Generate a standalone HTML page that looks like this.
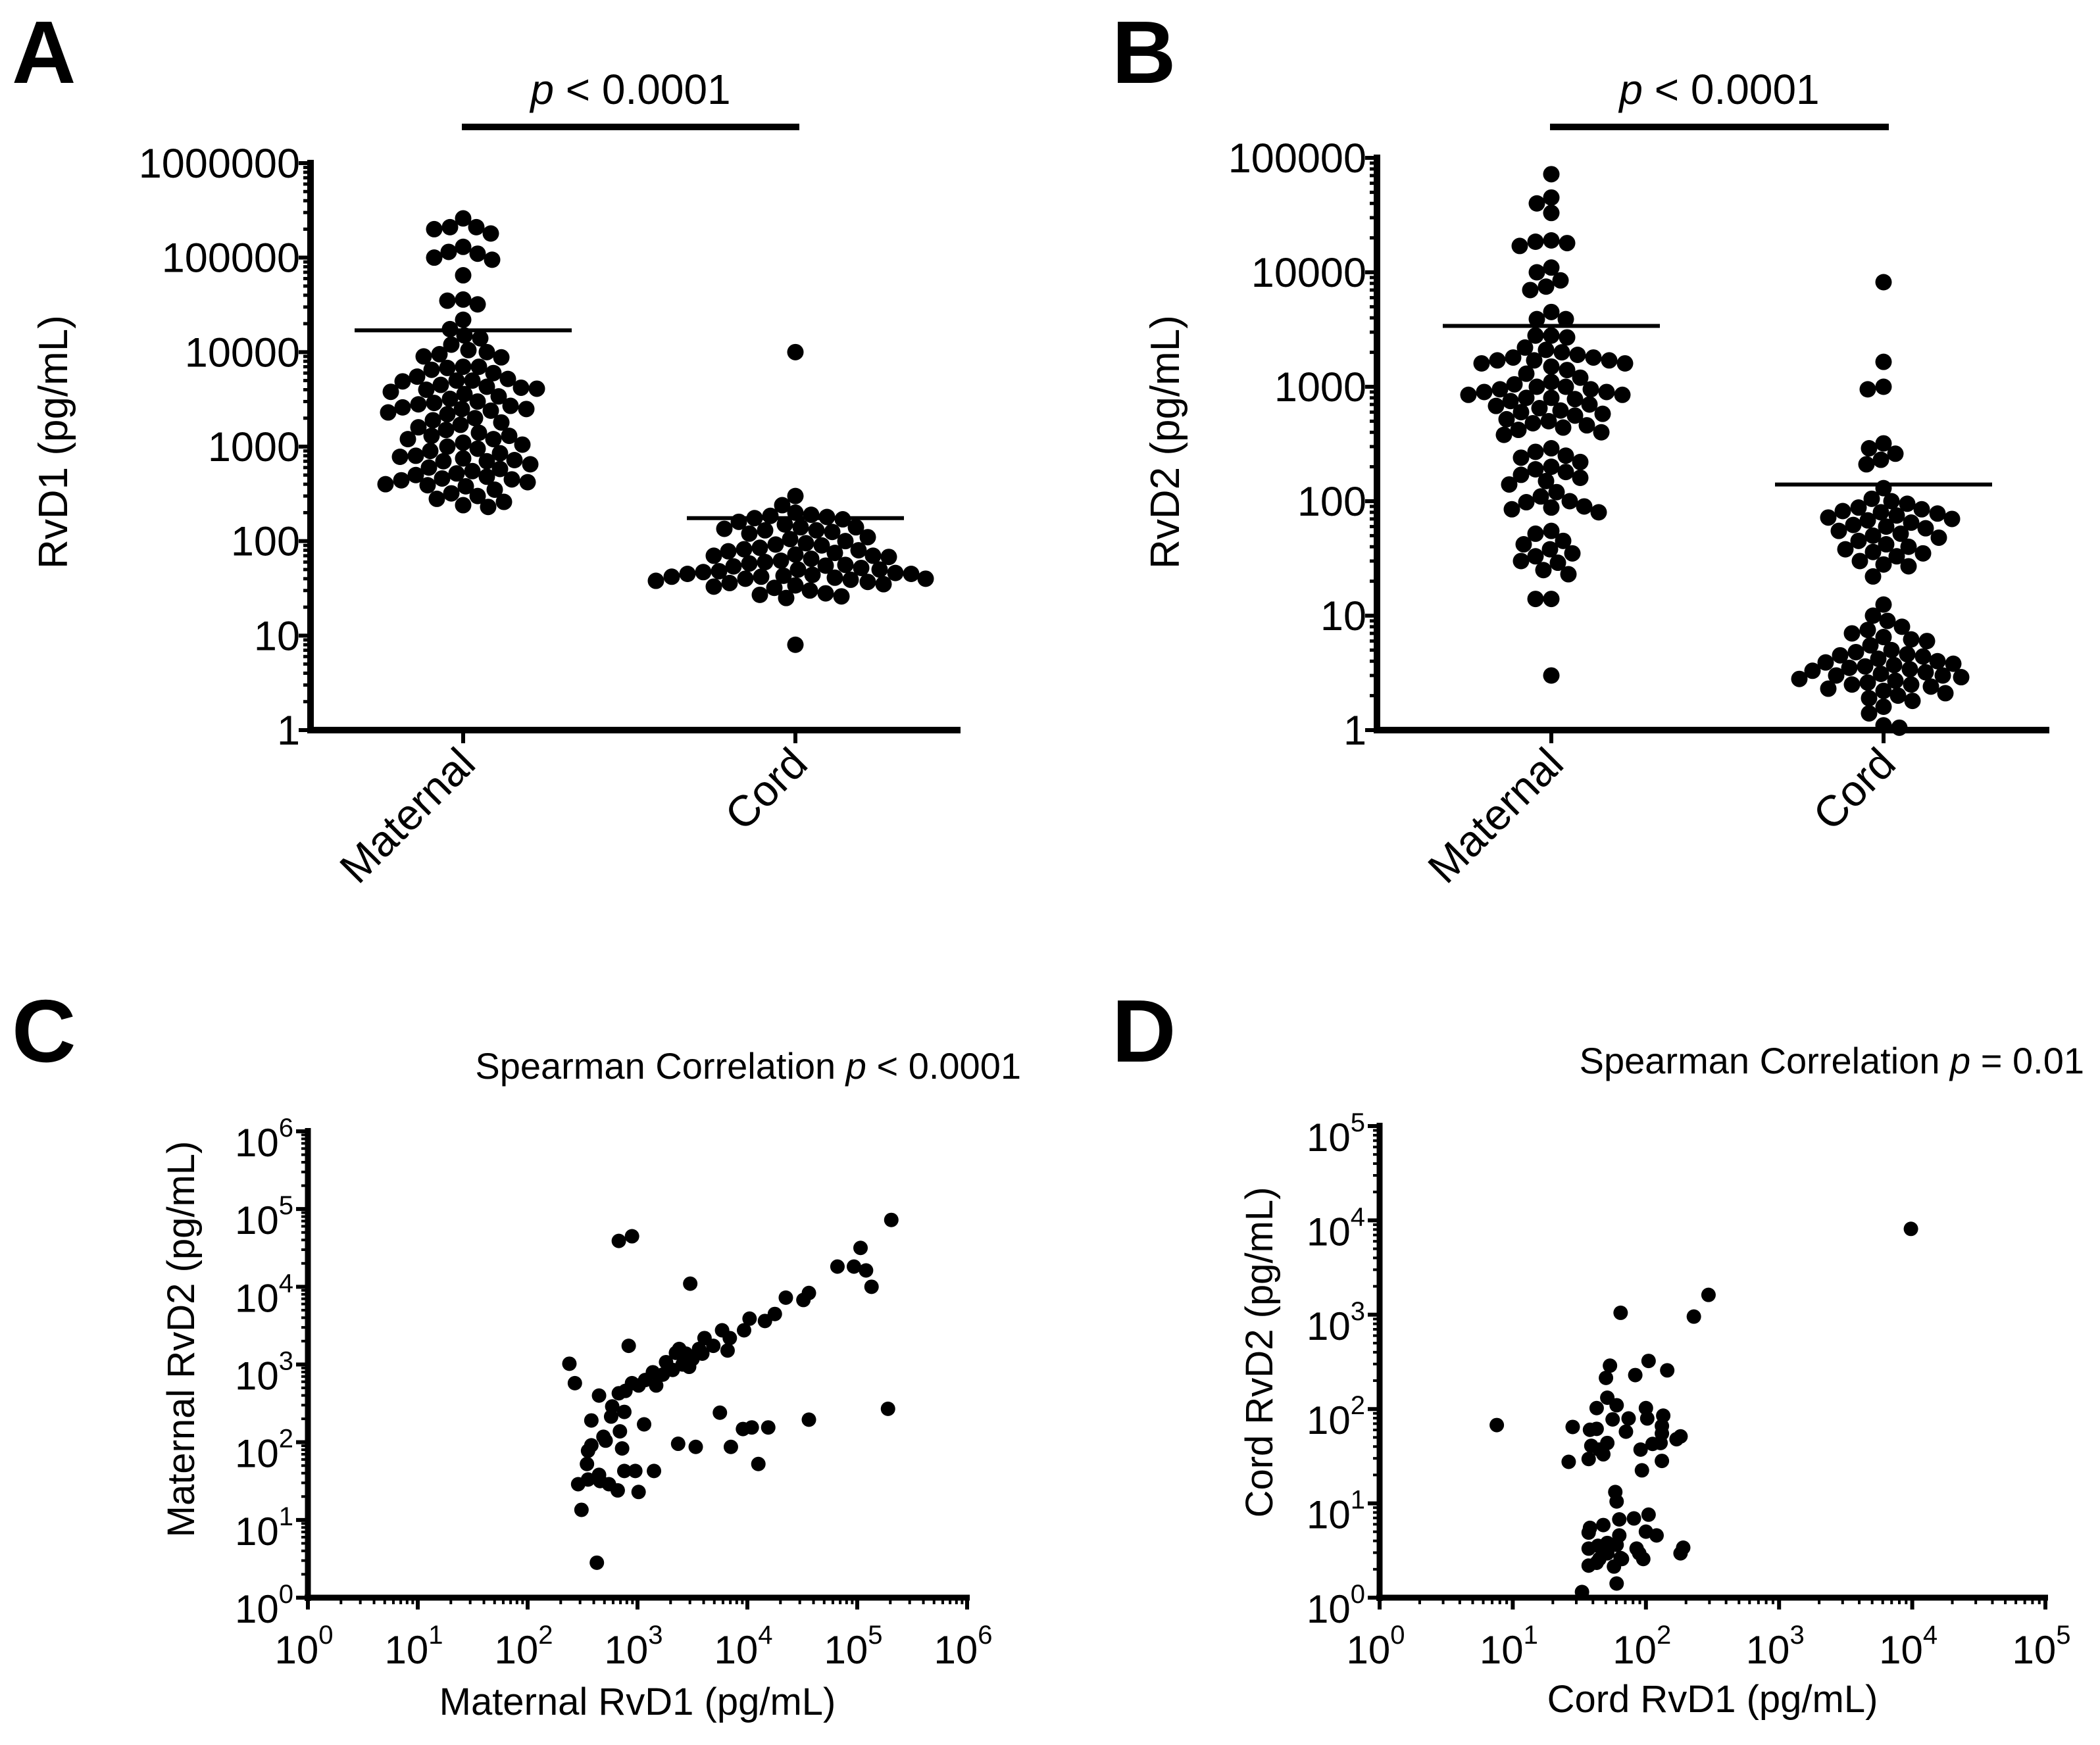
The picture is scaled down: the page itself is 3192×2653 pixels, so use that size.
<!DOCTYPE html>
<html><head><meta charset="utf-8"><style>
html,body{margin:0;padding:0;background:#fff}
svg{display:block;font-family:"Liberation Sans",Arial,sans-serif}
</style></head><body>
<svg id="fig" width="3192" height="2653" viewBox="0 0 3192 2653" xmlns="http://www.w3.org/2000/svg">
<rect width="3192" height="2653" fill="#fff"/>
<g id="root"></g>
</svg>
<script>
// ---- Panel A data (pg/mL) ----
const categoriesAB = ["Maternal", "Cord"];
const aMaternal = [260000,210000,210000,200000,180000,130000,115000,110000,100000,95000,65000,36000,35000,32000,22000,17500,15000,14000,12000,10500,10000,9500,9000,8800,7000,7000,6800,6500,6000,5500,5200,5000,5000,4900,4500,4300,4200,4100,4000,3800,3600,3400,3200,3000,2900,2800,2700,2600,2500,2500,2400,2300,2200,2000,1900,1800,1700,1600,1500,1400,1300,1300,1200,1200,1100,1050,1000,950,900,850,800,780,750,720,700,700,650,600,580,550,520,500,480,460,450,440,420,400,390,380,350,320,300,280,260,240,230];
const aCord = [10000,300,240,200,190,185,180,175,170,160,150,140,140,135,130,130,125,120,110,105,100,95,92,90,85,82,80,78,75,72,70,70,68,65,62,60,58,56,55,54,52,50,50,48,47,46,45,45,44,43,42,42,41,40,40,39,38,37,36,35,34,33,32,30,28,27,26,25,8];
const aMeans = [17000, 175];
const aTicks = [1,10,100,1000,10000,100000,1000000];
// ---- Panel B data ----
const bMaternal = [72000,45000,40000,33000,19000,18000,17000,18500,11000,10000,8500,7500,7000,4500,3900,3900,2800,2800,2700,2200,2100,2000,1900,1800,1800,1700,1700,1700,1600,1600,1500,1400,1300,1200,1100,1050,1000,1000,950,950,900,900,850,850,800,800,780,750,700,680,650,620,600,580,560,520,500,480,460,440,420,400,380,290,270,250,240,220,200,190,180,170,160,150,140,120,110,100,98,90,88,85,80,55,52,45,42,38,35,33,30,29,25,23,14,14,3];
const bCord = [8200,1650,1000,950,320,290,260,230,210,130,105,100,95,88,85,82,80,78,75,72,70,68,65,62,60,58,55,52,50,48,45,42,40,38,36,35,33,30,28,27,22,12.5,10,9,8,7.5,7,6.5,6.2,6,5.5,5,4.8,4.6,4.5,4.4,4.2,4,3.9,3.8,3.7,3.6,3.5,3.4,3.3,3.2,3.1,3,3,2.9,2.8,2.7,2.6,2.5,2.5,2.4,2.3,2.2,2.1,2,1.9,1.8,1.6,1.4,1.1,1.05];
const bMeans = [3400, 140];
const bTicks = [1,10,100,1000,10000,100000];
// ---- Panel C data (log10 values) ----
const cRvD1Log = [5.31,2.83,2.95,5.03,4.82,4.97,5.08,5.13,3.48,4.35,4.51,4.56,4.25,4.16,4.02,3.97,3.77,3.84,3.61,2.92,3.82,3.69,3.56,3.44,3.35,3.26,3.50,3.41,3.32,3.23,3.14,3.07,3.17,3.01,2.89,2.83,2.95,3.59,3.38,3.47,2.38,2.43,2.65,2.77,2.88,2.76,2.58,3.06,2.84,2.69,2.58,2.71,2.86,2.55,2.54,2.88,2.98,2.65,2.46,2.55,2.66,2.74,2.82,3.01,2.49,2.63,3.75,4.56,5.28,4.19,3.96,4.04,3.37,3.53,3.85,4.10,3.15];
const cRvD2Log = [4.86,4.59,4.65,4.50,4.26,4.26,4.21,4.00,4.04,3.86,3.83,3.92,3.65,3.56,3.59,3.44,3.44,3.34,3.34,3.24,3.18,3.24,3.20,3.14,3.15,3.03,3.07,3.00,2.93,2.87,2.90,2.80,2.73,2.73,2.66,2.63,2.76,3.14,3.20,2.97,3.01,2.76,2.60,2.46,2.39,2.33,2.28,2.23,2.14,2.07,1.96,2.02,1.92,1.89,1.72,1.63,1.63,1.58,1.46,1.52,1.50,1.46,1.38,1.36,1.13,0.45,2.38,2.29,2.43,2.19,2.17,2.19,1.98,1.94,1.94,1.72,1.63];
const cTicks = [0,1,2,3,4,5,6];
// ---- Panel D data (log10 values) ----
const dRvD1Log = [3.99,2.47,2.36,1.81,0.88,1.73,2.02,2.16,1.70,1.92,1.71,1.63,1.78,2.00,1.45,1.58,1.63,1.75,1.87,2.01,2.13,1.85,2.12,2.12,2.26,2.23,1.59,1.71,1.65,1.57,1.68,1.96,2.05,2.11,1.42,2.12,1.97,1.77,1.78,1.80,1.91,2.02,1.57,1.58,1.68,1.80,2.00,2.08,1.57,1.64,1.71,1.78,1.93,1.71,1.65,1.81,1.95,1.98,2.26,2.28,1.57,1.63,1.76,1.82,1.78,1.52];
const dRvD2Log = [3.91,3.21,2.98,3.02,1.83,2.46,2.51,2.41,2.33,2.36,2.12,2.01,2.04,2.01,1.81,1.78,1.79,1.89,1.90,1.90,1.93,1.76,1.82,1.74,1.71,1.68,1.61,1.64,1.57,1.47,1.52,1.57,1.63,1.64,1.44,1.45,1.35,1.12,1.02,0.83,0.84,0.88,0.69,0.74,0.77,0.66,0.70,0.66,0.52,0.55,0.58,0.56,0.52,0.47,0.41,0.42,0.47,0.41,0.47,0.53,0.34,0.37,0.33,0.41,0.15,0.06];
const dTicks = [0,1,2,3,4,5];

const NS = "http://www.w3.org/2000/svg";
const root = document.getElementById('root');
function el(tag, attrs, parent, text){
  const e = document.createElementNS(NS, tag);
  for (const k in attrs) e.setAttribute(k, attrs[k]);
  if (text !== undefined) e.textContent = text;
  (parent || root).appendChild(e);
  return e;
}
function grp(name){
  const g = el('g', {});
  
  
  return g;
}
function logScale(lo, hi, p0, p1){ return v => p0 + (Math.log10(v) - lo) / (hi - lo) * (p1 - p0); }
function linScale(lo, hi, p0, p1){ return v => p0 + (v - lo) / (hi - lo) * (p1 - p0); }

function swarm(values, cx, ys, r){
  const placed = [];
  const order = values.map((v,i)=>i).sort((a,b)=>values[b]-values[a]);
  const xs = new Array(values.length);
  const d2 = (2*r-2)*(2*r-2);
  for (const i of order){
    const y = ys(values[i]);
    let best = cx;
    for (let k = 0; k < 600; k++){
      const off = (k % 2 === 0 ? 1 : -1) * Math.ceil(k/2) * 2;
      const x = cx + off;
      let ok = true;
      for (const p of placed){ const dx=p[0]-x, dy=p[1]-y; if (dx*dx+dy*dy < d2){ ok=false; break; } }
      if (ok){ best = x; break; }
    }
    xs[i] = best; placed.push([best, y]);
  }
  return xs;
}

function panelLabel(txt, x, y, name){
  const t = el('text', {x:x, y:y, 'font-size':135, 'font-weight':'bold'}, root, txt);
  
  
}

function dotPanel(cfg){
  const g = grp(cfg.name);
  const ys = logScale(0, Math.log10(cfg.ticks[cfg.ticks.length-1]), cfg.y0, cfg.y1);
  const ya = el('line', {x1:cfg.ax, y1:cfg.y1-5, x2:cfg.ax, y2:cfg.y0+5, stroke:'#000','stroke-width':10}, g);
   
  const xa = el('line', {x1:cfg.ax-5, y1:cfg.y0, x2:cfg.xEnd, y2:cfg.y0, stroke:'#000','stroke-width':10}, g);
   
  const maxDec = Math.log10(cfg.ticks[cfg.ticks.length-1]);
  for (const t of cfg.ticks){
    const y = ys(t);
    el('line',{x1:cfg.ax-18,y1:y,x2:cfg.ax,y2:y,stroke:'#000','stroke-width':6},g);
    const lab = el('text',{x:cfg.ax-16,y:y+22,'font-size':63,'text-anchor':'end'},g,String(t));
     
    if (Math.log10(t) < maxDec){
      for (let m=2;m<=9;m++){ const yy=ys(t*m); el('line',{x1:cfg.ax-11,y1:yy,x2:cfg.ax,y2:yy,stroke:'#000','stroke-width':5},g); }
    }
  }
  const yt = el('text',{transform:`translate(${cfg.titleX},${cfg.titleY}) rotate(-90)`,'font-size':62,'text-anchor':'middle'},g,cfg.yTitle);
   
  const groups = [cfg.maternal, cfg.cord];
  categoriesAB.forEach((c,i)=>{
    const cx = cfg.cx[i];
    el('line',{x1:cx,y1:cfg.y0,x2:cx,y2:cfg.y0+20,stroke:'#000','stroke-width':6},g);
    const cl = el('text',{transform:`translate(${cx+22},${cfg.y0+55}) rotate(-45)`,'font-size':66,'text-anchor':'end'},g,c);
     
    const xs = swarm(groups[i], cx, ys, 12.5);
    groups[i].forEach((v,j)=>{
      const d = el('circle',{cx:xs[j],cy:ys(v),r:12.5,fill:'#000'},g);
      
      
    });
    const mw = 165;
    const ml = el('line',{x1:cx-mw,y1:ys(cfg.means[i]),x2:cx+mw,y2:ys(cfg.means[i]),stroke:'#000','stroke-width':6},g);
     
  });
  const bar = el('line',{x1:cfg.barX[0],y1:193,x2:cfg.barX[1],y2:193,stroke:'#000','stroke-width':10},g);
   
  const pt = el('text',{x:(cfg.barX[0]+cfg.barX[1])/2,y:158,'font-size':64,'text-anchor':'middle'},g);
   
  el('tspan',{'font-style':'italic'},pt,'p');
  el('tspan',{},pt,' < 0.0001');
}

dotPanel({name:'panel-a', ax:472, xEnd:1460, y0:1110, y1:248, cx:[704,1209], ticks:aTicks,
  maternal:aMaternal, cord:aCord, means:aMeans, yTitle:'RvD1 (pg/mL)', titleX:102, titleY:672, barX:[702,1215]});
dotPanel({name:'panel-b', ax:2093, xEnd:3115, y0:1110, y1:240, cx:[2358,2863], ticks:bTicks,
  maternal:bMaternal, cord:bCord, means:bMeans, yTitle:'RvD2 (pg/mL)', titleX:1792, titleY:672, barX:[2356,2871]});

function scatterPanel(cfg){
  const g = grp(cfg.name);
  const nDec = cfg.ticks.length-1;
  const xs = linScale(0,nDec,cfg.ax,cfg.xEnd);
  const ys = linScale(0,nDec,cfg.y0,cfg.yTop);
  const ya = el('line',{x1:cfg.ax,y1:cfg.yTop-5,x2:cfg.ax,y2:cfg.y0+5,stroke:'#000','stroke-width':9},g);
   
  const xa = el('line',{x1:cfg.ax-5,y1:cfg.y0,x2:cfg.xEnd+4,y2:cfg.y0,stroke:'#000','stroke-width':9},g);
   
  cfg.ticks.forEach(t=>{
    const x = xs(t), y = ys(t);
    el('line',{x1:x,y1:cfg.y0,x2:x,y2:cfg.y0+18,stroke:'#000','stroke-width':6},g);
    el('line',{x1:cfg.ax-18,y1:y,x2:cfg.ax,y2:y,stroke:'#000','stroke-width':6},g);
    const xl = el('text',{x:x-6,y:cfg.y0+100,'font-size':60,'text-anchor':'middle'},g);
     
    el('tspan',{},xl,'10'); el('tspan',{dy:-30,'font-size':40},xl,String(t));
    const yl = el('text',{x:cfg.ax-22,y:y+38,'font-size':60,'text-anchor':'end'},g);
     
    el('tspan',{},yl,'10'); el('tspan',{dy:-30,'font-size':40},yl,String(t));
    if (t < nDec){
      for (let m=2;m<=9;m++){
        const f = Math.log10(m);
        const mx = xs(t+f), my = ys(t+f);
        el('line',{x1:mx,y1:cfg.y0,x2:mx,y2:cfg.y0+10,stroke:'#000','stroke-width':4},g);
        el('line',{x1:cfg.ax-10,y1:my,x2:cfg.ax,y2:my,stroke:'#000','stroke-width':4},g);
      }
    }
  });
  cfg.xv.forEach((v,i)=>{
    const d = el('circle',{cx:xs(v),cy:ys(cfg.yv[i]),r:11,fill:'#000'},g);
     
  });
  const yt = el('text',{transform:`translate(${cfg.yTitleX},${cfg.yTitleY}) rotate(-90)`,'font-size':58,'text-anchor':'middle'},g,cfg.yTitle);
   
  const xt = el('text',{x:(cfg.ax+cfg.xEnd)/2,y:cfg.xTitleY,'font-size':58,'text-anchor':'middle'},g,cfg.xTitle);
   
  const st = el('text',{x:cfg.stX,y:cfg.stY,'font-size':56,'text-anchor':'end'},g);
   
  el('tspan',{},st,'Spearman Correlation ');
  el('tspan',{'font-style':'italic'},st,'p');
  el('tspan',{},st,cfg.pText);
}
scatterPanel({name:'panel-c', ax:468, xEnd:1470, y0:2429, yTop:1720, ticks:cTicks, xv:cRvD1Log, yv:cRvD2Log,
  yTitle:'Maternal RvD2 (pg/mL)', xTitle:'Maternal RvD1 (pg/mL)', yTitleX:295, yTitleY:2036, xTitleY:2607, stX:1552, stY:1640, pText:' < 0.0001'});
scatterPanel({name:'panel-d', ax:2097, xEnd:3109, y0:2429, yTop:1712, ticks:dTicks, xv:dRvD1Log, yv:dRvD2Log,
  yTitle:'Cord RvD2 (pg/mL)', xTitle:'Cord RvD1 (pg/mL)', yTitleX:1934, yTitleY:2056, xTitleY:2603, stX:3168, stY:1632, pText:' = 0.01'});

panelLabel('A', 18, 126, 'panel-label-a');
panelLabel('B', 1690, 126, 'panel-label-b');
panelLabel('C', 18, 1614, 'panel-label-c');
panelLabel('D', 1690, 1614, 'panel-label-d');
</script>
</body></html>
